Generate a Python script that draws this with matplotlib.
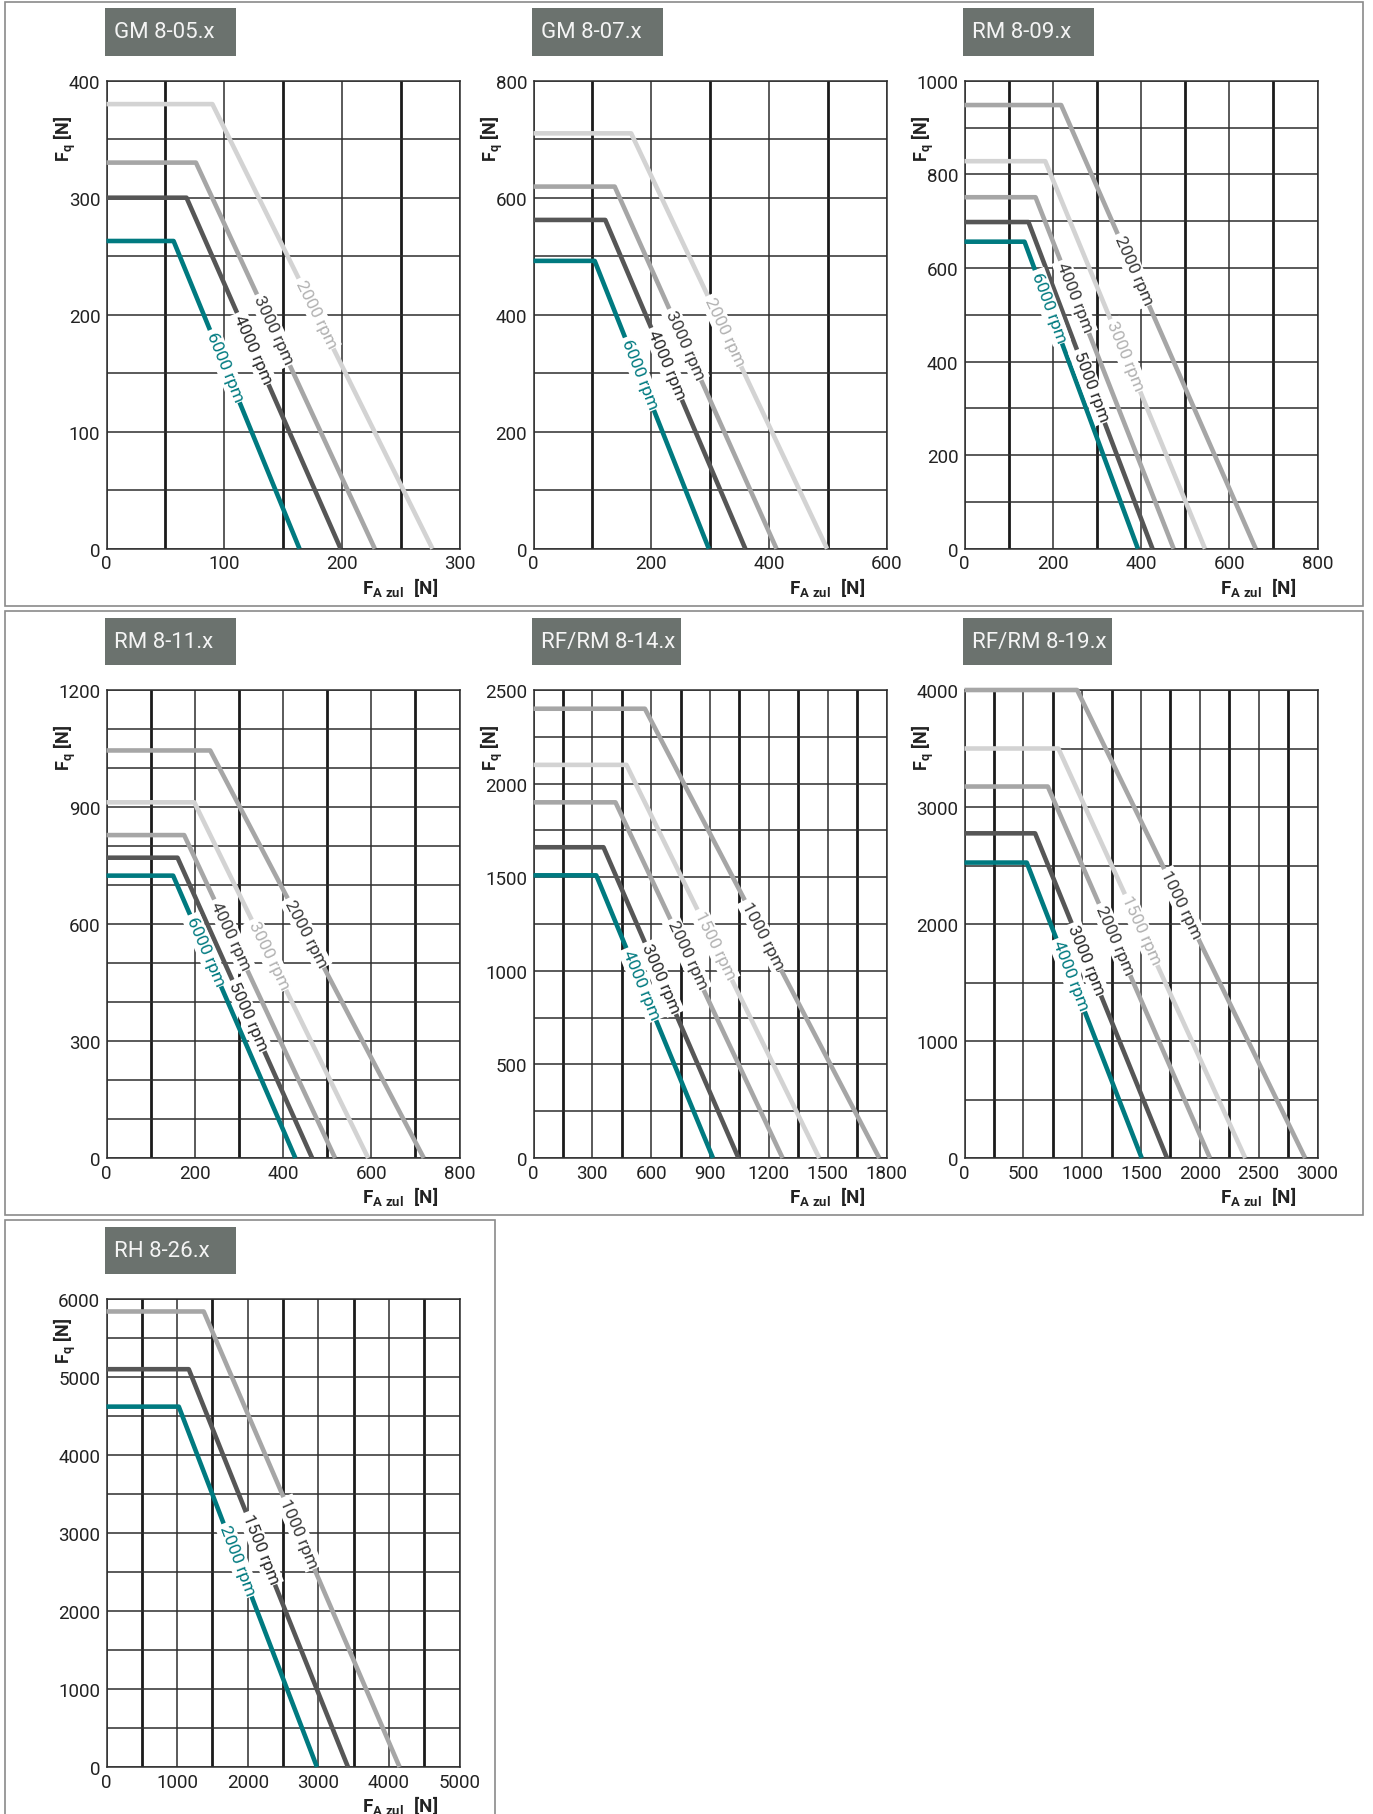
import numpy as np
import matplotlib.pyplot as plt
from matplotlib.patches import Rectangle

plt.rcParams['font.family'] = ['Roboto', 'DejaVu Sans']
plt.rcParams['mathtext.fontset'] = 'custom'
plt.rcParams['mathtext.rm'] = 'Roboto'
plt.rcParams['mathtext.bf'] = 'Roboto:bold'
plt.rcParams['mathtext.it'] = 'Roboto:italic'

W, H = 1373, 1815  # output size in px (dpi 100)

# ---------------------------------------------
#  gearbox series and axis ranges
# ---------------------------------------------
titles = ['GM 8-05.x', 'GM 8-07.x', 'RM 8-09.x', 'RM 8-11.x',
          'RF/RM 8-14.x', 'RF/RM 8-19.x', 'RH 8-26.x']
x_max = [300, 600, 800, 800, 1800, 3000, 5000]
y_max = [400, 800, 1000, 1200, 2500, 4000, 6000]
x_step = [100, 200, 200, 200, 300, 500, 1000]  # labelled ticks
y_step = [100, 200, 200, 300, 500, 1000, 1000]
x_grid = [50, 100, 100, 100, 150, 250, 500]  # grid spacing
y_grid = [50, 100, 100, 100, 250, 500, 500]

# ---------------------------------------------
#  load curves: flat at fq_max up to fa_knee, then linear down to fa_end
# ---------------------------------------------
speeds = [
    [2000, 3000, 4000, 6000],
    [2000, 3000, 4000, 6000],
    [2000, 3000, 4000, 5000, 6000],
    [2000, 3000, 4000, 5000, 6000],
    [1000, 1500, 2000, 3000, 4000],
    [1000, 1500, 2000, 3000, 4000],
    [1000, 1500, 2000],
]
fq_max = [
    [380, 330, 300, 263],
    [710, 619, 562, 492],
    [948, 828, 751, 698, 656],
    [1045, 912, 828, 770, 724],
    [2400, 2100, 1900, 1660, 1510],
    [4000, 3500, 3175, 2775, 2525],
    [5840, 5100, 4620],
]
fa_knee = [
    [90, 76, 68, 57],
    [166, 138, 122, 104],
    [219, 183, 161, 145, 136],
    [235, 199, 176, 161, 151],
    [568, 474, 418, 357, 320],
    [957, 798, 708, 600, 529],
    [1377, 1165, 1024],
]
fa_end = [
    [277, 228, 199, 164],
    [499, 413, 360, 298],
    [660, 545, 474, 426, 393],
    [719, 593, 518, 466, 428],
    [1763, 1457, 1270, 1045, 915],
    [2895, 2386, 2086, 1721, 1506],
    [4151, 3420, 2981],
]
shade = [
    ['light', 'mid', 'dark', 'teal'],
    ['light', 'mid', 'dark', 'teal'],
    ['mid', 'light', 'mid', 'dark', 'teal'],
    ['mid', 'light', 'mid', 'dark', 'teal'],
    ['mid', 'light', 'mid', 'dark', 'teal'],
    ['mid', 'light', 'mid', 'dark', 'teal'],
    ['mid', 'dark', 'teal'],
]
# Fq height where the rpm label sits on the sloped part
label_fq = [
    [201, 187, 171, 156],
    [372, 349, 316, 299],
    [596, 413, 538, 347, 517],
    [577, 521, 572, 365, 532],
    [1192, 1139, 1086, 960, 928],
    [2170, 1951, 1867, 1698, 1563],
    [3000, 2802, 2654],
]

line_colors = {'light': '#d3d3d3', 'mid': '#a6a6a6', 'dark': '#565656', 'teal': '#007a80'}
text_colors = {'light': '#b2b2b2', 'mid': '#3a3a3a', 'dark': '#2a2a2a', 'teal': '#007a80'}

# ---------------------------------------------
#  layout (px, origin top-left)
# ---------------------------------------------
col_left = [106.5, 533.5, 964.5]
row_top = [81.7, 691, 1300]
ax_w, ax_h = 353, 468
title_w = [131, 131, 131, 131, 149, 149, 131]
ylab_drop = [57, 57, 57, 57, 57, 57, 41]  # px from axes top to F_q label centre
frames = [(4.7, 2.7, 1363, 606.7), (4.7, 612, 1363, 1216), (4.7, 1221, 495, 1840)]


def fig_box(left, top, right, bottom):
    return [left / W, 1 - bottom / H, (right - left) / W, (bottom - top) / H]


fig = plt.figure(figsize=(W / 100, H / 100), dpi=100)

for fr in frames:
    x0, y0, w, h = fig_box(*fr)
    fig.add_artist(Rectangle((x0, y0), w, h, transform=fig.transFigure,
                             fill=False, ec='#8a8a8a', lw=1.2))

for i, title in enumerate(titles):
    left = col_left[i % 3]
    top = row_top[i // 3]
    ax = fig.add_axes(fig_box(left, top, left + ax_w, top + ax_h))

    # title plate
    tb = fig_box(left - 1.5, top - 72.4, left - 1.5 + title_w[i], top - 25)
    fig.add_artist(Rectangle((tb[0], tb[1]), tb[2], tb[3], transform=fig.transFigure,
                             fc='#6b726e', ec='none'))
    fig.text(tb[0] + 9 / W, tb[1] + tb[3] / 2, title, color='#f4f4f4', fontsize=16,
             ha='left', va='center')

    ax.set_xlim(0, x_max[i])
    ax.set_ylim(0, y_max[i])
    ax.set_xticks(np.arange(0, x_max[i] + 1, x_step[i]))
    ax.set_yticks(np.arange(0, y_max[i] + 1, y_step[i]))
    xg = np.arange(0, x_max[i] + 1, x_grid[i])
    yg = np.arange(0, y_max[i] + 1, y_grid[i])
    ax.set_xticks([v for v in xg if v % x_step[i]], minor=True)
    ax.set_yticks([v for v in yg if v % y_step[i]], minor=True)
    ax.tick_params(which='both', length=0)
    ax.tick_params(axis='x', labelsize=13.5, pad=4, labelcolor='#222222')
    ax.tick_params(axis='y', labelsize=13.5, pad=4.5, labelcolor='#222222')

    # thin lines at labelled ticks, heavy lines in between (vertical only)
    ax.grid(which='major', axis='x', color='#2e2e2e', lw=1.1)
    ax.grid(which='minor', axis='x', color='#1a1a1a', lw=2.0)
    ax.grid(which='both', axis='y', color='#2e2e2e', lw=1.1)
    ax.set_axisbelow(True)
    for sp in ax.spines.values():
        sp.set_color('#2e2e2e')
        sp.set_linewidth(1.1)

    for s, fq, kn, en, sh, lab in zip(speeds[i], fq_max[i], fa_knee[i], fa_end[i],
                                      shade[i], label_fq[i]):
        ax.plot([0, kn, en], [fq, fq, 0], color=line_colors[sh], lw=3.3,
                solid_capstyle='butt', clip_on=False, zorder=3)
        p0 = ax.transData.transform((kn, fq))
        p1 = ax.transData.transform((en, 0))
        angle = np.degrees(np.arctan2(p1[1] - p0[1], p1[0] - p0[0]))
        x_lab = en - (en - kn) * lab / fq
        ax.text(x_lab, lab, f'{s} rpm', rotation=angle, rotation_mode='anchor',
                ha='center', va='center', fontsize=12.5, color=text_colors[sh], zorder=4,
                bbox=dict(boxstyle='square,pad=0.12', fc='white', ec='none'))

    ax.text(-42 / ax_w, 1 - ylab_drop[i] / ax_h, r'$\mathbf{F_{q}\ [N]}$',
            transform=ax.transAxes, rotation=90, ha='center', va='center',
            fontsize=13, color='#222222')
    ax.text(1 - 21 / ax_w, -38 / ax_h, r'$\mathbf{F_{A\ zul}}\ \ \mathbf{[N]}$',
            transform=ax.transAxes, ha='right', va='center', fontsize=13.5, color='#222222')

fig.savefig('out.png', dpi=100)
